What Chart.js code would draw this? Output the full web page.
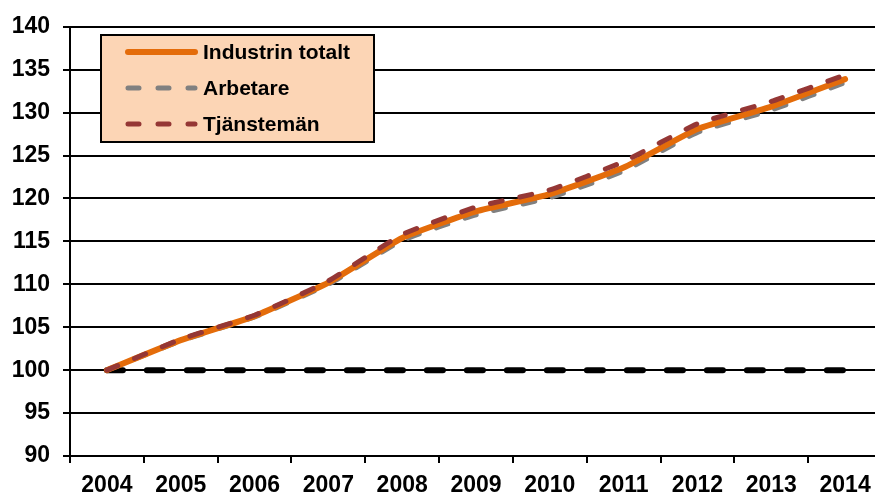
<!DOCTYPE html>
<html>
<head>
<meta charset="utf-8">
<script src="https://cdn.jsdelivr.net/npm/chart.js@4/dist/chart.umd.min.js"></script>
<style>
html,body{margin:0;padding:0;background:#fff;overflow:hidden;width:875px;height:495px;}
#wrap{position:relative;width:882px;height:495px;}
</style>
</head>
<body>
<div id="wrap"><canvas id="c" width="882" height="495"></canvas></div>
<script>
const years = ['2004','2005','2006','2007','2008','2009','2010','2011','2012','2013','2014'];
const industrinTotalt = [100, 103.5, 106.3, 110.2, 115.4, 118.5, 120.5, 123.6, 128.1, 130.7, 133.9];
const arbetare        = [100, 103.4, 106.2, 110.0, 115.1, 118.1, 120.1, 123.2, 127.7, 130.3, 133.5];
const tjansteman      = [100, 103.6, 106.4, 110.4, 115.8, 119.0, 121.0, 124.3, 128.7, 131.3, 134.4];
const baseline        = [100, 100, 100, 100, 100, 100, 100, 100, 100, 100, 100];
const yTicks = {min: 90, max: 140, step: 5};
const seriesNames = ['Industrin totalt', 'Arbetare', 'Tjänstemän'];

const FONT = '"Liberation Sans", Arial, sans-serif';
const ORANGE = '#E46C0A', GRAY = '#808080', RED = '#953735';

const legendPlugin = {
  id: 'boxLegend',
  afterDatasetsDraw(chart) {
    const ctx = chart.ctx;
    ctx.save();
    const bx = 101, by = 35, bw = 273, bh = 107;
    ctx.fillStyle = '#FCD5B5';
    ctx.fillRect(bx, by, bw, bh);
    ctx.lineWidth = 2;
    ctx.strokeStyle = '#000';
    ctx.strokeRect(bx, by, bw, bh);
    const items = [
      {text: seriesNames[0], color: ORANGE, dash: [], w: 6},
      {text: seriesNames[1], color: GRAY, dash: [11, 19], w: 5},
      {text: seriesNames[2], color: RED, dash: [11, 19], w: 5}
    ];
    items.forEach((it, i) => {
      const y = 52 + i * 36;
      ctx.beginPath();
      ctx.setLineDash(it.dash);
      ctx.lineCap = 'round';
      ctx.lineWidth = it.w;
      ctx.strokeStyle = it.color;
      ctx.moveTo(128, y);
      ctx.lineTo(195, y);
      ctx.stroke();
      ctx.setLineDash([]);
      ctx.fillStyle = '#000';
      ctx.font = 'bold 21px ' + FONT;
      ctx.textBaseline = 'middle';
      ctx.textAlign = 'left';
      ctx.fillText(it.text, 203, y + 1);
    });
    ctx.restore();
  }
};

new Chart(document.getElementById('c'), {
  type: 'line',
  data: {
    labels: years,
    datasets: [
      {label: seriesNames[2], data: tjansteman, borderColor: RED, borderWidth: 5, borderDash: [12, 18], borderCapStyle: 'round', pointRadius: 0, tension: 0.15, order: 0},
      {label: seriesNames[0], data: industrinTotalt, borderColor: ORANGE, borderWidth: 6, borderCapStyle: 'round', pointRadius: 0, tension: 0.15, order: 1},
      {label: seriesNames[1], data: arbetare, borderColor: GRAY, borderWidth: 5, borderDash: [12, 18], borderCapStyle: 'round', pointRadius: 0, tension: 0.15, order: 2},
      {label: 'base', data: baseline, borderColor: '#000', borderWidth: 6, borderDash: [16, 24], borderCapStyle: 'round', pointRadius: 0, order: 3}
    ]
  },
  options: {
    responsive: false,
    animation: false,
    events: [],
    layout: {padding: {top: 23, left: 0, right: 0, bottom: 0}},
    plugins: {legend: {display: false}, tooltip: {enabled: false}},
    scales: {
      x: {
        type: 'category',
        offset: true,
        grid: {offset: true, drawOnChartArea: false, drawTicks: true, tickLength: 7, color: '#000', lineWidth: 2},
        border: {display: true, color: '#000', width: 2},
        ticks: {color: '#000', font: {family: FONT, size: 23, weight: 'bold'}, padding: 9, maxRotation: 0, autoSkip: false},
        afterFit(s) { s.height = 39; }
      },
      y: {
        min: yTicks.min, max: yTicks.max,
        grid: {color: '#000', lineWidth: 2, tickLength: 7, drawTicks: true},
        border: {display: true, color: '#000', width: 2},
        ticks: {stepSize: yTicks.step, color: '#000', font: {family: FONT, size: 23, weight: 'bold'}, padding: 13},
        afterFit(s) { s.width = 70; }
      }
    }
  },
  plugins: [legendPlugin]
});
</script>
</body>
</html>
